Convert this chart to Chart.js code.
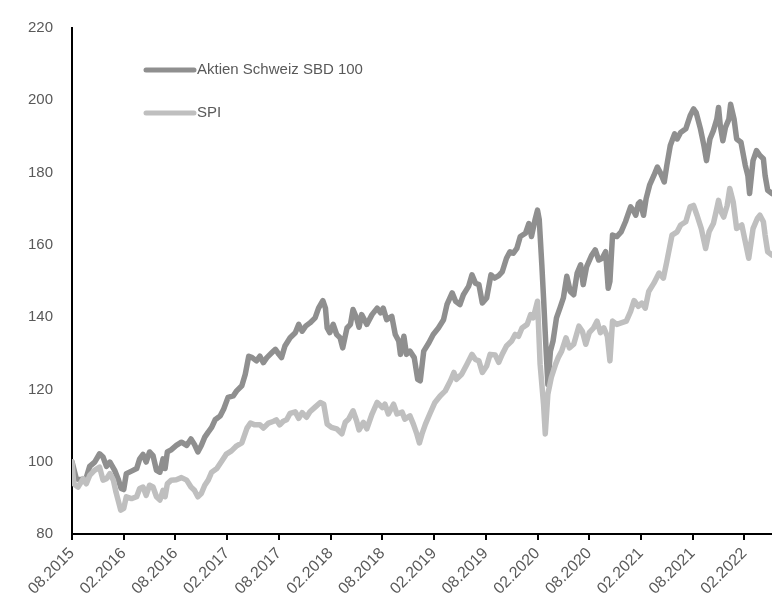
<!DOCTYPE html>
<html>
<head>
<meta charset="utf-8">
<script src="https://cdn.jsdelivr.net/npm/chart.js@4/dist/chart.umd.min.js"></script>
<style>
  html, body { margin: 0; padding: 0; background: #ffffff; }
  #wrap { position: relative; width: 772px; height: 605px; }
</style>
</head>
<body>
<div id="wrap"><canvas id="c" width="772" height="605"></canvas></div>
<script>
// x values: months elapsed since 08.2015
const tickLabels = ["08.2015","02.2016","08.2016","02.2017","08.2017","02.2018","08.2018","02.2019","08.2019","02.2020","08.2020","02.2021","08.2021","02.2022"];
const seriesNames = ["Aktien Schweiz SBD 100", "SPI"];

const sbdMonths = [0,0.5,1.08,1.66,2.05,2.63,3.2,3.6,4.0,4.4,4.95,5.34,5.7,6.0,6.3,6.9,7.5,7.85,8.24,8.6,9.0,9.4,9.8,10.2,10.56,10.8,11.06,11.5,12.1,12.7,13.3,13.8,14.2,14.6,15.0,15.4,15.8,16.2,16.6,17.2,17.6,18.1,18.7,19.1,19.7,20.1,20.5,20.9,21.4,21.8,22.2,22.6,23.2,23.6,24.0,24.3,24.7,25.3,25.9,26.3,26.7,27.1,27.6,28.2,28.6,29.1,29.4,29.6,29.9,30.3,30.7,31.1,31.4,31.9,32.3,32.6,33.0,33.3,33.6,34.2,34.8,35.4,35.8,36.1,36.5,37.1,37.5,37.9,38.1,38.5,38.8,39.2,39.7,40.1,40.4,40.8,41.4,41.9,42.5,43.1,43.5,44.1,44.5,45.0,45.4,46.0,46.4,46.8,47.2,47.6,48.1,48.6,49.0,49.5,49.9,50.4,50.8,51.2,51.6,52.0,52.6,53.0,53.3,53.7,54.0,54.2,54.5,54.7,55.0,55.2,55.5,55.8,56.2,56.6,57.0,57.4,57.8,58.2,58.6,59.0,59.3,59.7,60.3,60.7,61.1,61.5,61.9,62.2,62.4,62.7,63.2,63.7,64.2,64.8,65.1,65.4,65.7,65.9,66.3,66.6,67.0,67.5,67.9,68.3,68.7,69.0,69.4,69.9,70.2,70.6,71.2,71.7,72.1,72.4,72.9,73.3,73.6,74.0,74.4,74.8,75.0,75.2,75.5,75.8,76.2,76.4,76.8,77.1,77.6,78.1,78.4,78.6,79.0,79.4,79.8,80.2,80.4,80.7,81.2];
const sbdValues = [100,95.3,95.0,95.6,98.7,99.9,102.2,101.3,98.7,99.9,97.6,95.3,92.6,92.3,96.7,97.4,98.1,100.8,102.0,99.9,102.7,101.7,97.6,97.1,100.8,98.1,102.7,103.3,104.5,105.4,104.5,106.3,104.8,102.7,104.5,106.8,108.2,109.5,111.6,112.7,114.6,117.8,118.2,119.6,121.0,124.2,129.2,128.8,127.9,129.2,127.4,128.8,130.2,131.1,129.7,128.8,132.0,134.3,135.7,138.0,136.1,137.5,138.4,139.8,142.5,144.6,142.5,137.0,135.7,138.0,135.2,134.3,131.5,137.0,138.0,142.1,139.8,137.2,140.7,138.0,140.7,142.5,141.2,142.5,139.3,140.2,135.2,133.4,129.7,134.7,129.7,130.6,128.8,122.8,122.4,130.6,132.9,135.2,137.0,139.3,143.5,146.7,144.4,143.5,146.2,148.5,151.7,149.4,149.0,143.9,145.3,151.7,150.8,151.5,152.5,156.3,158.1,157.7,159.0,162.3,163.2,165.9,162.3,166.8,169.6,167.0,154.5,145.3,130.6,121.4,130.6,133.4,139.8,142.5,145.3,151.3,147.1,146.2,152.2,154.5,149.0,154.0,157.2,158.6,155.8,156.3,158.1,148.0,149.9,162.7,162.3,163.6,166.4,170.5,169.6,168.2,171.4,171.9,168.2,172.8,176.5,179.2,181.5,179.7,177.4,182.0,187.5,190.7,189.3,191.1,192.1,195.7,197.6,196.6,192.1,187.5,183.3,189.3,191.6,194.8,198.0,193.0,188.8,192.5,194.8,198.9,194.8,189.3,188.4,182.0,179.2,174.2,183.3,186.1,184.7,183.8,179.2,175.1,174.2];

const spiMonths = [0,0.2,0.7,1.3,1.66,2.05,2.6,3.2,3.6,4.0,4.4,4.8,5.1,5.4,5.65,6.0,6.3,6.9,7.5,7.85,8.24,8.6,9.0,9.4,9.8,10.2,10.56,10.8,11.06,11.5,12.1,12.7,13.3,13.8,14.2,14.6,15.0,15.4,15.8,16.2,16.8,17.4,17.9,18.5,19.1,19.7,20.3,20.7,21.2,21.8,22.2,22.8,23.4,23.7,24.1,24.5,24.9,25.3,25.9,26.3,26.7,27.2,27.6,28.2,28.8,29.2,29.6,30.1,30.7,31.3,31.7,32.1,32.6,33.0,33.3,33.8,34.2,34.8,35.4,36.0,36.3,36.7,37.3,37.7,38.3,38.6,39.2,39.6,40.0,40.3,40.6,41.0,41.5,42.1,42.7,43.3,43.9,44.3,44.6,45.2,45.8,46.4,46.8,47.2,47.6,48.1,48.5,49.1,49.5,49.9,50.4,51.0,51.4,51.8,52.2,52.8,53.2,53.5,54.0,54.3,54.7,54.9,55.2,55.6,56.1,56.4,56.8,57.3,57.7,58.2,58.8,59.2,59.6,60.0,60.5,60.9,61.3,61.7,62.1,62.4,62.7,63.2,63.7,64.3,64.8,65.2,65.7,66.1,66.5,66.9,67.5,68.1,68.6,69.0,69.6,70.2,70.6,71.2,71.7,72.1,72.5,73.0,73.5,73.9,74.4,74.8,75.0,75.3,75.6,76.0,76.3,76.7,77.1,77.7,78.1,78.5,79.0,79.5,79.8,80.2,80.4,80.7,81.2];
const spiValues = [100,93.9,93.0,95.3,93.9,96.2,97.6,98.5,94.9,95.3,96.7,94.9,91.6,88.9,86.6,87.1,90.3,89.8,90.3,92.6,93.0,90.7,93.5,93.0,90.3,89.4,92.1,90.3,93.9,94.9,95.0,95.6,94.9,93.0,92.1,90.3,91.2,93.5,94.9,97.1,98.1,100.3,102.1,103.0,104.4,105.2,109.3,110.7,110.2,110.2,109.3,110.7,111.2,111.6,110.2,111.2,111.6,113.4,113.8,112.0,113.6,112.3,113.8,115.1,116.4,115.9,110.4,109.5,109.1,107.7,110.9,111.8,114.1,111.4,108.8,110.9,109.1,113.2,116.4,115.0,115.9,113.2,115.9,113.2,113.7,111.8,112.7,110.4,107.7,105.2,107.7,110.4,113.2,116.4,118.2,119.6,122.4,124.7,122.8,124.2,126.9,129.7,128.3,127.9,124.7,126.5,129.7,129.5,127.5,129.7,132.0,133.4,135.2,134.7,137.0,138.0,140.7,139.8,144.4,127.0,115.9,107.7,118.7,123.3,127.0,128.8,130.6,134.3,131.5,132.5,137.5,136.1,132.5,135.7,137.0,138.9,135.7,137.0,134.7,127.9,138.9,138.0,138.4,138.9,141.6,144.6,143.0,143.9,142.5,147.1,149.4,152.2,150.8,155.4,162.7,163.6,165.5,166.4,170.5,170.9,168.2,164.5,159.0,163.6,165.9,170.1,172.3,169.1,167.7,170.9,175.6,171.9,164.5,165.5,160.9,156.3,164.5,167.3,168.2,166.4,162.7,158.1,157.2];

const yMin = 80, yMax = 220, yStep = 20;
const xMax = 81.2;

const toPoints = (xs, ys) => xs.map((x, i) => ({ x: x, y: ys[i] }));

const COLORS = ["#8f8f8f", "#bfbfbf"];
const TEXT = "#595959";
const FONT = "'Liberation Sans', Arial, sans-serif";

const insideLegend = {
  id: 'insideLegend',
  afterDatasetsDraw(chart) {
    const ctx = chart.ctx;
    const a = chart.chartArea;
    ctx.save();
    chart.data.datasets.forEach((ds, i) => {
      const y = a.top + 42 + i * 43;
      const x0 = a.left + 74, x1 = a.left + 122;
      ctx.strokeStyle = ds.borderColor;
      ctx.lineWidth = 5;
      ctx.lineCap = 'round';
      ctx.beginPath();
      ctx.moveTo(x0, y);
      ctx.lineTo(x1, y);
      ctx.stroke();
      ctx.fillStyle = TEXT;
      ctx.font = "15px " + FONT;
      ctx.textBaseline = 'middle';
      ctx.textAlign = 'left';
      ctx.fillText(ds.label, x1 + 3, y);
    });
    ctx.restore();
  }
};

new Chart(document.getElementById('c'), {
  type: 'line',
  data: {
    datasets: [
      { label: seriesNames[0], data: toPoints(sbdMonths, sbdValues), borderColor: COLORS[0], backgroundColor: COLORS[0], borderWidth: 5.5, pointRadius: 0, tension: 0, borderJoinStyle: 'round', borderCapStyle: 'round', order: 1 },
      { label: seriesNames[1], data: toPoints(spiMonths, spiValues), borderColor: COLORS[1], backgroundColor: COLORS[1], borderWidth: 5.5, pointRadius: 0, tension: 0, borderJoinStyle: 'round', borderCapStyle: 'round', order: 0 }
    ]
  },
  options: {
    responsive: false,
    animation: false,
    maintainAspectRatio: false,
    layout: { padding: { top: 25, right: 0, left: 0, bottom: 0 } },
    plugins: { legend: { display: false }, tooltip: { enabled: false } },
    scales: {
      x: {
        type: 'linear',
        min: 0,
        max: xMax,
        afterBuildTicks: (s) => { s.ticks = tickLabels.map((_, i) => ({ value: i * 6 })); },
        afterFit: (s) => { s.height = 71; },
        border: { display: true, color: '#000000', width: 2 },
        grid: { display: true, drawOnChartArea: false, drawTicks: true, tickLength: 6, color: '#000000', lineWidth: 2 },
        ticks: {
          autoSkip: false,
          maxRotation: 45,
          minRotation: 45,
          padding: 4,
          color: TEXT,
          font: { family: FONT, size: 16 },
          callback: (v) => tickLabels[Math.round(v / 6)]
        }
      },
      y: {
        min: yMin,
        max: yMax,
        afterFit: (s) => { s.width = 72; },
        border: { display: true, color: '#000000', width: 2 },
        grid: { display: false, drawTicks: false, tickLength: 0 },
        ticks: {
          stepSize: yStep,
          padding: 19,
          color: TEXT,
          font: { family: FONT, size: 15 }
        }
      }
    }
  },
  plugins: [insideLegend]
});
</script>
</body>
</html>
